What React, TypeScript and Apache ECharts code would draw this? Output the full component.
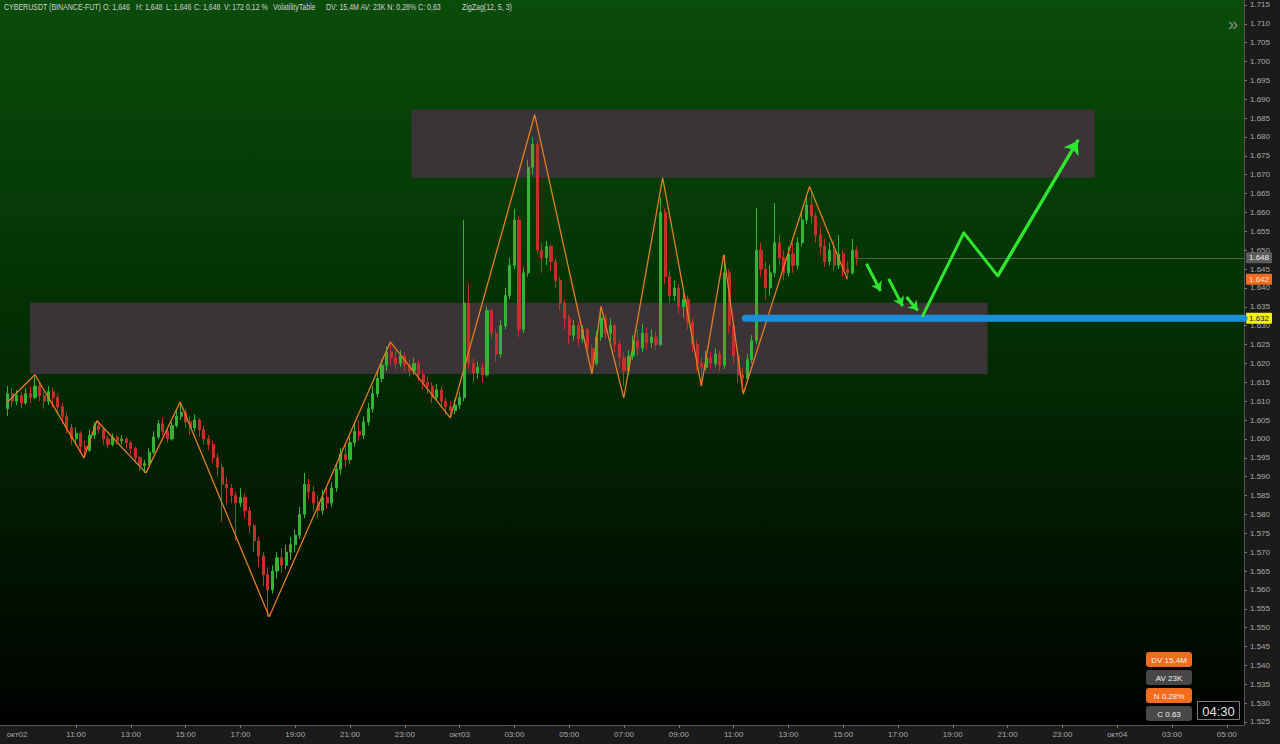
import React, { useEffect, useRef } from "react";
import * as echarts from "echarts";

// ---- candle data (10-minute candles, hours since 02 Oct 00:00) ----
const CANDLE_START_HOUR = 8.5;
const CANDLE_STEP_HOURS = 1 / 6;
const START_OPEN = 1.608;
const CLOSE = [
  1.6120, 1.6100, 1.6115, 1.6095, 1.6120, 1.6110, 1.6140, 1.6115, 1.6100, 1.6125,
  1.6110, 1.6085, 1.6060, 1.6030, 1.6000, 1.6015, 1.5980, 1.5970, 1.6010, 1.6035,
  1.6025, 1.6000, 1.5985, 1.6005, 1.5995, 1.6000, 1.5990, 1.5975, 1.5950, 1.5930,
  1.5935, 1.5965, 1.6005, 1.6040, 1.6020, 1.6000, 1.6035, 1.6060, 1.6070, 1.6045,
  1.6030, 1.6050, 1.6025, 1.6000, 1.5985, 1.5950, 1.5925, 1.5880, 1.5870, 1.5850,
  1.5830, 1.5845, 1.5810, 1.5770, 1.5730, 1.5690, 1.5640, 1.5600, 1.5650, 1.5685,
  1.5665, 1.5700, 1.5720, 1.5745, 1.5800, 1.5880, 1.5860, 1.5830, 1.5810, 1.5845,
  1.5830, 1.5870, 1.5920, 1.5960, 1.5945, 1.5990, 1.6020, 1.6010, 1.6045, 1.6080,
  1.6120, 1.6160, 1.6195, 1.6230, 1.6215, 1.6200, 1.6220, 1.6195, 1.6180, 1.6200,
  1.6170, 1.6150, 1.6140, 1.6110, 1.6130, 1.6100, 1.6085, 1.6075, 1.6090, 1.6110,
  1.6360, 1.6200, 1.6175, 1.6190, 1.6170, 1.6340, 1.6280, 1.6225, 1.6300, 1.6380,
  1.6460, 1.6580, 1.6290, 1.6440, 1.6720, 1.6780, 1.6500, 1.6480, 1.6510, 1.6470,
  1.6420, 1.6360, 1.6320, 1.6275, 1.6300, 1.6265, 1.6290, 1.6240, 1.6200, 1.6270,
  1.6320, 1.6280, 1.6300, 1.6250, 1.6215, 1.6180, 1.6220, 1.6260, 1.6240, 1.6280,
  1.6255, 1.6270, 1.6250, 1.6600, 1.6430, 1.6380, 1.6400, 1.6350, 1.6370, 1.6310,
  1.6250, 1.6200, 1.6190, 1.6215, 1.6200, 1.6225, 1.6195, 1.6440, 1.6300, 1.6220,
  1.6170, 1.6160, 1.6210, 1.6260, 1.6500, 1.6450, 1.6400, 1.6440, 1.6520, 1.6480,
  1.6440, 1.6490, 1.6460, 1.6520, 1.6580, 1.6620, 1.6590, 1.6540, 1.6510, 1.6470,
  1.6500, 1.6460, 1.6490, 1.6450, 1.6440, 1.6500, 1.6480,
];
const LOW = [
  1.6060, 1.6085, 1.6090, 1.6080, 1.6090, 1.6095, 1.6105, 1.6100, 1.6080, 1.6090,
  1.6085, 1.6065, 1.6040, 1.6015, 1.5985, 1.5985, 1.5965, 1.5950, 1.5965, 1.6000,
  1.6015, 1.5985, 1.5975, 1.5980, 1.5985, 1.5985, 1.5975, 1.5960, 1.5935, 1.5915,
  1.5910, 1.5930, 1.5960, 1.6000, 1.6010, 1.5990, 1.5995, 1.6030, 1.6050, 1.6030,
  1.6010, 1.6020, 1.6005, 1.5985, 1.5970, 1.5935, 1.5900, 1.5780, 1.5825, 1.5830,
  1.5730, 1.5820, 1.5790, 1.5750, 1.5700, 1.5660, 1.5610, 1.5529, 1.5590, 1.5630,
  1.5645, 1.5655, 1.5680, 1.5700, 1.5735, 1.5790, 1.5840, 1.5810, 1.5790, 1.5800,
  1.5815, 1.5820, 1.5860, 1.5905, 1.5925, 1.5935, 1.5980, 1.5995, 1.6000, 1.6035,
  1.6070, 1.6110, 1.6150, 1.6180, 1.6195, 1.6185, 1.6190, 1.6180, 1.6165, 1.6170,
  1.6155, 1.6130, 1.6120, 1.6095, 1.6100, 1.6085, 1.6065, 1.6056, 1.6065, 1.6080,
  1.6100, 1.6185, 1.6150, 1.6160, 1.6150, 1.6165, 1.6265, 1.6205, 1.6215, 1.6290,
  1.6370, 1.6450, 1.6270, 1.6280, 1.6430, 1.6700, 1.6490, 1.6440, 1.6460, 1.6445,
  1.6400, 1.6340, 1.6290, 1.6250, 1.6260, 1.6245, 1.6255, 1.6220, 1.6183, 1.6195,
  1.6260, 1.6265, 1.6260, 1.6230, 1.6190, 1.6140, 1.6170, 1.6210, 1.6220, 1.6230,
  1.6235, 1.6240, 1.6235, 1.6245, 1.6410, 1.6360, 1.6365, 1.6330, 1.6320, 1.6290,
  1.6230, 1.6180, 1.6150, 1.6180, 1.6185, 1.6190, 1.6180, 1.6185, 1.6280, 1.6200,
  1.6150, 1.6125, 1.6150, 1.6200, 1.6250, 1.6430, 1.6370, 1.6380, 1.6430, 1.6460,
  1.6420, 1.6430, 1.6440, 1.6450, 1.6510, 1.6570, 1.6570, 1.6520, 1.6490, 1.6455,
  1.6460, 1.6445, 1.6450, 1.6430, 1.6423, 1.6435, 1.6460,
];
const HIGH = [
  1.6140, 1.6135, 1.6130, 1.6125, 1.6135, 1.6140, 1.6165, 1.6150, 1.6125, 1.6140,
  1.6135, 1.6120, 1.6095, 1.6070, 1.6040, 1.6030, 1.6020, 1.5995, 1.6025, 1.6045,
  1.6048, 1.6030, 1.6010, 1.6015, 1.6010, 1.6010, 1.6005, 1.5995, 1.5980, 1.5955,
  1.5945, 1.5975, 1.6020, 1.6050, 1.6055, 1.6030, 1.6045, 1.6075, 1.6098, 1.6080,
  1.6060, 1.6065, 1.6055, 1.6035, 1.6010, 1.5995, 1.5960, 1.5935, 1.5900, 1.5880,
  1.5860, 1.5870, 1.5855, 1.5820, 1.5775, 1.5740, 1.5700, 1.5660, 1.5665, 1.5700,
  1.5710, 1.5720, 1.5740, 1.5760, 1.5820, 1.5910, 1.5895, 1.5875, 1.5850, 1.5865,
  1.5870, 1.5885, 1.5935, 1.5975, 1.5985, 1.6005, 1.6040, 1.6050, 1.6060, 1.6095,
  1.6140, 1.6180, 1.6210, 1.6245, 1.6250, 1.6235, 1.6235, 1.6230, 1.6210, 1.6215,
  1.6210, 1.6180, 1.6165, 1.6150, 1.6145, 1.6140, 1.6110, 1.6100, 1.6105, 1.6125,
  1.6580, 1.6410, 1.6215, 1.6205, 1.6200, 1.6350, 1.6345, 1.6290, 1.6315, 1.6400,
  1.6480, 1.6610, 1.6590, 1.6455, 1.6740, 1.6800, 1.6790, 1.6520, 1.6525, 1.6515,
  1.6480, 1.6430, 1.6370, 1.6330, 1.6315, 1.6310, 1.6300, 1.6295, 1.6250, 1.6285,
  1.6342, 1.6330, 1.6320, 1.6305, 1.6260, 1.6230, 1.6235, 1.6275, 1.6290, 1.6305,
  1.6295, 1.6290, 1.6285, 1.6640, 1.6610, 1.6445, 1.6420, 1.6410, 1.6395, 1.6380,
  1.6320, 1.6260, 1.6215, 1.6235, 1.6230, 1.6240, 1.6235, 1.6488, 1.6450, 1.6310,
  1.6235, 1.6190, 1.6225, 1.6275, 1.6612, 1.6520, 1.6470, 1.6460, 1.6625, 1.6540,
  1.6500, 1.6510, 1.6520, 1.6535, 1.6600, 1.6641, 1.6650, 1.6600, 1.6560, 1.6530,
  1.6520, 1.6525, 1.6540, 1.6500, 1.6470, 1.6530, 1.6510,
];

// ---- ZigZag(12, 5, 3) pivots ----
const ZIGZAG_HOURS = [8.47, 9.5, 11.29, 11.76, 13.55, 14.8, 18.05, 22.47, 24.66, 27.74, 29.83, 30.16, 30.99, 32.41, 33.82, 34.64, 35.35, 37.77, 39.15];
const ZIGZAG_PRICES = [1.6096, 1.617, 1.595, 1.6048, 1.591, 1.6098, 1.5529, 1.6257, 1.6056, 1.6859, 1.6172, 1.6351, 1.6109, 1.6692, 1.614, 1.6488, 1.6119, 1.6669, 1.6423];

// ---- zones [startHour, topPrice, endHour, bottomPrice] ----
const ZONES = [
  [23.24, 1.6872, 48.18, 1.6692],
  [9.32, 1.6361, 44.27, 1.6172],
];

// ---- support line and forecast path ----
const SUPPORT_LEVEL = 1.632;
const SUPPORT_START_HOUR = 35.43;
const PATH_HOURS = [41.9, 43.4, 44.64, 47.56];
const PATH_PRICES = [1.6326, 1.6546, 1.6432, 1.679];
// small arrows: [fromHour, fromPrice, toHour, toPrice]
const SMALL_ARROWS = [
  [39.85, 1.6464, 40.36, 1.6392],
  [40.66, 1.6424, 41.17, 1.6352],
  [41.31, 1.6376, 41.72, 1.634],
];

// ---- axes ----
const X_MIN = 8.224;
const X_MAX = 53.628;
const Y_MIN = 1.5242;
const Y_MAX = 1.7163;
const X_TICK_HOURS = [8.85, 11, 13, 15, 17, 19, 21, 23, 25, 27, 29, 31, 33, 35, 37, 39, 41, 43, 45, 47, 49, 51, 53];
const X_TICK_LABELS = ["окт02", "11:00", "13:00", "15:00", "17:00", "19:00", "21:00", "23:00", "окт03", "03:00", "05:00", "07:00", "09:00", "11:00", "13:00", "15:00", "17:00", "19:00", "21:00", "23:00", "окт04", "03:00", "05:00"];
const Y_TICKS = [
  1.525, 1.53, 1.535, 1.54, 1.545, 1.55, 1.555, 1.56, 1.565, 1.57,
  1.575, 1.58, 1.585, 1.59, 1.595, 1.6, 1.605, 1.61, 1.615, 1.62,
  1.625, 1.63, 1.635, 1.64, 1.645, 1.65, 1.655, 1.66, 1.665, 1.67,
  1.675, 1.68, 1.685, 1.69, 1.695, 1.7, 1.705, 1.71, 1.715,
];

// ---- header and info texts ----
const HEADER_PARTS = [
  "CYBERUSDT (BINANCE-FUT)", "O: 1,646", "H: 1,648", "L: 1,646", "C: 1,648", "V: 172", "0,12 %",
  "VolatilityTable", "DV: 15,4M AV: 23K N: 0,28% C: 0,63", "ZigZag(12, 5, 3)",
];
const HEADER_X = [4, 103, 136, 166, 194, 224, 246, 273, 326, 462];
const INFO_BOXES = ["DV 15.4M", "AV 23K", "N 0.28%", "C 0.63"];
const INFO_COLORS = ["#f26c1e", "#484848", "#f26c1e", "#484848"];
const COUNTDOWN = "04:30";

const AXIS_FONT = '"Liberation Sans", Arial, sans-serif';

export default function App() {
  const ref = useRef<HTMLDivElement>(null);

  useEffect(() => {
    if (!ref.current) return;
    const chart = echarts.init(ref.current, undefined, { renderer: "svg" });

    const candles = CLOSE.map((c, i) => {
      const o = i === 0 ? START_OPEN : CLOSE[i - 1];
      return [CANDLE_START_HOUR + i * CANDLE_STEP_HOURS, o, c, LOW[i], HIGH[i]];
    });
    const lastHour = CANDLE_START_HOUR + (CLOSE.length - 1) * CANDLE_STEP_HOURS;
    const lastPrice = CLOSE[CLOSE.length - 1];
    const zzLast = ZIGZAG_PRICES[ZIGZAG_PRICES.length - 1];

    const priceLabel = (bg: string, fg: string) => ({
      show: true,
      position: "end" as const,
      distance: 2,
      backgroundColor: bg,
      color: fg,
      padding: [2, 3, 1, 3],
      fontSize: 8,
      fontFamily: AXIS_FONT,
      borderRadius: 1,
    });
    const hidden = { color: "rgba(0,0,0,0)", width: 0 };

    const green = "#2fe62f";
    const lastSeg = PATH_HOURS.length - 1;

    const graphics: any[] = [];
    HEADER_PARTS.forEach((t, i) => {
      graphics.push({
        type: "text",
        x: HEADER_X[i],
        y: 7,
        scaleX: 0.78,
        silent: true,
        style: { text: t, fill: "#d2d2d2", font: `9px ${AXIS_FONT}`, textAlign: "left", textVerticalAlign: "middle", verticalAlign: "middle" },
      });
    });
    graphics.push({
      type: "text", x: 1233, y: 24, silent: true,
      style: { text: "»", fill: "#8c8c8c", font: `18px ${AXIS_FONT}`, textAlign: "center", textVerticalAlign: "middle", verticalAlign: "middle" },
    });
    INFO_BOXES.forEach((t, i) => {
      const y = 652 + i * 18;
      graphics.push({
        type: "rect", silent: true,
        shape: { x: 1146, y, width: 46, height: 15, r: 3 },
        style: { fill: INFO_COLORS[i] },
      });
      graphics.push({
        type: "text", x: 1169, y: y + 8, silent: true,
        style: { text: t, fill: "#f2f2f2", font: `8px ${AXIS_FONT}`, textAlign: "center", textVerticalAlign: "middle", verticalAlign: "middle" },
      });
    });
    graphics.push({
      type: "rect", silent: true,
      shape: { x: 1197.5, y: 701.5, width: 42, height: 18 },
      style: { fill: "#050505", stroke: "#7c7c7c", lineWidth: 1 },
    });
    graphics.push({
      type: "text", x: 1218.5, y: 711, silent: true,
      style: { text: COUNTDOWN, fill: "#e2e2e2", font: `13px ${AXIS_FONT}`, textAlign: "center", textVerticalAlign: "middle", verticalAlign: "middle" },
    });

    chart.setOption({
      animation: false,
      backgroundColor: "#1b1b1b",
      grid: {
        left: 0, right: 36, top: 0, bottom: 19,
        show: true,
        borderWidth: 0,
        backgroundColor: new echarts.graphic.LinearGradient(0, 0, 0, 1, [
          { offset: 0, color: "#0a4c0a" },
          { offset: 0.45, color: "#032f03" },
          { offset: 1, color: "#000100" },
        ]),
      },
      xAxis: {
        type: "value",
        min: X_MIN,
        max: X_MAX,
        splitLine: { show: false },
        axisLine: { show: true, lineStyle: { color: "#555555" } },
        axisTick: { show: true, customValues: X_TICK_HOURS.slice(1), length: 3, lineStyle: { color: "#777777" } },
        axisLabel: {
          customValues: X_TICK_HOURS,
          formatter: (v: number) => {
            const k = X_TICK_HOURS.findIndex((h) => Math.abs(h - v) < 1e-6);
            return k >= 0 ? X_TICK_LABELS[k] : "";
          },
          fontSize: 8,
          fontFamily: AXIS_FONT,
          color: "#a9a9a9",
          margin: 5,
        },
      },
      yAxis: {
        type: "value",
        position: "right",
        min: Y_MIN,
        max: Y_MAX,
        scale: true,
        splitLine: { show: false },
        axisLine: { show: true, lineStyle: { color: "#555555" } },
        axisTick: { show: true, customValues: Y_TICKS, length: 3, lineStyle: { color: "#777777" } },
        axisLabel: {
          customValues: Y_TICKS,
          formatter: (v: number) => v.toFixed(3),
          fontSize: 8,
          fontFamily: AXIS_FONT,
          color: "#a9a9a9",
          margin: 6,
        },
      },
      graphic: graphics,
      series: [
        {
          name: "zones",
          type: "line",
          data: [],
          z: 1,
          markArea: {
            silent: true,
            itemStyle: { color: "#3a3437", opacity: 1 },
            data: ZONES.map((z) => [{ coord: [z[0], z[1]] }, { coord: [z[2], z[3]] }]),
          },
        },
        {
          name: "CYBERUSDT",
          type: "candlestick",
          z: 3,
          barWidth: 2.6,
          encode: { x: 0, y: [1, 2, 3, 4] },
          data: candles,
          itemStyle: {
            color: "#35b335",
            color0: "#c5302b",
            borderColor: "#35b335",
            borderColor0: "#c5302b",
            borderWidth: 1,
          },
          markLine: {
            silent: true,
            symbol: ["none", "none"],
            data: [
              [
                {
                  coord: [lastHour, lastPrice],
                  lineStyle: { color: "rgba(160,160,160,0.45)", width: 1, type: "solid" },
                  label: { ...priceLabel("#5c5c5c", "#f0f0f0"), formatter: () => lastPrice.toFixed(3) },
                },
                { coord: [X_MAX, lastPrice] },
              ],
              [
                {
                  coord: [lastHour, zzLast],
                  lineStyle: hidden,
                  label: { ...priceLabel("#f26c1e", "#ffe2cf"), formatter: () => zzLast.toFixed(3) },
                },
                { coord: [X_MAX, zzLast] },
              ],
            ],
          },
        },
        {
          name: "ZigZag",
          type: "line",
          z: 4,
          symbol: "none",
          data: ZIGZAG_HOURS.map((h, i) => [h, ZIGZAG_PRICES[i]]),
          lineStyle: { color: "#e57d24", width: 1.3 },
        },
        {
          name: "support",
          type: "line",
          z: 5,
          symbol: "none",
          data: [[SUPPORT_START_HOUR, SUPPORT_LEVEL], [X_MAX, SUPPORT_LEVEL]],
          lineStyle: { color: "#1c8fd8", width: 7, cap: "round" },
          markLine: {
            silent: true,
            symbol: ["none", "none"],
            data: [
              [
                {
                  coord: [SUPPORT_START_HOUR, SUPPORT_LEVEL],
                  lineStyle: hidden,
                  label: { ...priceLabel("#f2f200", "#222222"), formatter: () => SUPPORT_LEVEL.toFixed(3) },
                },
                { coord: [X_MAX, SUPPORT_LEVEL] },
              ],
            ],
          },
        },
        {
          name: "forecast",
          type: "line",
          z: 6,
          symbol: "none",
          data: PATH_HOURS.map((h, i) => [h, PATH_PRICES[i]]),
          lineStyle: { color: green, width: 3, cap: "round", join: "round" },
          markLine: {
            silent: true,
            symbol: ["none", "arrow"],
            symbolSize: 13,
            lineStyle: { color: green, width: 3, type: "solid" },
            label: { show: false },
            data: [
              [
                { coord: [PATH_HOURS[lastSeg - 1], PATH_PRICES[lastSeg - 1]] },
                { coord: [PATH_HOURS[lastSeg], PATH_PRICES[lastSeg]] },
              ],
              ...SMALL_ARROWS.map((a) => [
                { coord: [a[0], a[1]], symbolSize: 9 },
                { coord: [a[2], a[3]], symbolSize: 9 },
              ]),
            ],
          },
        },
      ],
    });

    return () => chart.dispose();
  }, []);

  return (
    <div
      ref={ref}
      style={{ position: "fixed", left: 0, top: 0, width: 1280, height: 744, background: "#1b1b1b" }}
    />
  );
}
